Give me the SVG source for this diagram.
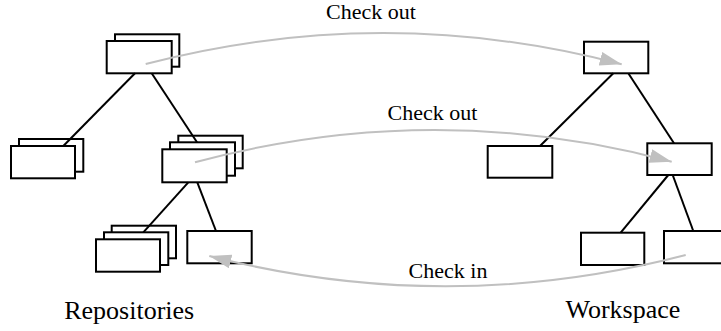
<svg xmlns="http://www.w3.org/2000/svg" width="721" height="331" viewBox="0 0 721 331">
<style>
.box{fill:#fff;stroke:#000;stroke-width:2}
.edge{stroke:#000;stroke-width:2;fill:none}
.flow{stroke:#c0c0c0;stroke-width:2;fill:none;marker-end:url(#ah)}
.lbl{font-family:"Liberation Serif","Times New Roman",serif;font-size:22px;fill:#000;text-anchor:middle}
.title{font-family:"Liberation Serif","Times New Roman",serif;font-size:26px;fill:#000;text-anchor:middle}
</style>
<defs>
<marker id="ah" markerUnits="userSpaceOnUse" markerWidth="22" markerHeight="14" refX="22" refY="7" orient="auto">
<path d="M0,0 L22,7 L0,14 Z" fill="#c0c0c0"/>
</marker>
</defs>
<rect width="721" height="331" fill="#fff"/>
<g id="repo-top">
<rect class="box" x="115" y="34.3" width="64.3" height="32.4"/>
<rect class="box" x="106.7" y="41" width="65" height="32.3"/>
</g>
<g id="repo-left">
<rect class="box" x="19" y="139" width="64.3" height="32.7"/>
<rect class="box" x="11" y="146" width="64" height="32.3"/>
</g>
<g id="repo-mid">
<rect class="box" x="178.3" y="135.7" width="64.4" height="32.6"/>
<rect class="box" x="170" y="142.3" width="65" height="33.4"/>
<rect class="box" x="162.3" y="149.3" width="64.4" height="33"/>
</g>
<g id="repo-bottom-left">
<rect class="box" x="111.7" y="225.7" width="64.3" height="32.6"/>
<rect class="box" x="104" y="232.3" width="64.3" height="32.7"/>
<rect class="box" x="96" y="239.3" width="64" height="32.4"/>
</g>
<g id="repo-bottom-right">
<rect class="box" x="187.3" y="231" width="64.4" height="32.3"/>
</g>
<g id="ws-top">
<rect class="box" x="584" y="41.7" width="64.3" height="31.6"/>
</g>
<g id="ws-left">
<rect class="box" x="487.7" y="146" width="64.6" height="31.7"/>
</g>
<g id="ws-right">
<rect class="box" x="647.3" y="143.3" width="64.4" height="31.7"/>
</g>
<g id="ws-bottom-left">
<rect class="box" x="581" y="232.7" width="63.3" height="32.3"/>
</g>
<g id="ws-bottom-right">
<rect class="box" x="664" y="231" width="64" height="32.3"/>
</g>
<g id="connectors">
<line class="edge" x1="135" y1="73.3" x2="63.3" y2="146"/>
<line class="edge" x1="151.7" y1="73.3" x2="197" y2="142.3"/>
<line class="edge" x1="188.3" y1="182.3" x2="143.3" y2="232.3"/>
<line class="edge" x1="197.3" y1="182.3" x2="216" y2="231"/>
<line class="edge" x1="613.3" y1="73.3" x2="540" y2="146"/>
<line class="edge" x1="628.3" y1="73.3" x2="674" y2="143.3"/>
<line class="edge" x1="668.3" y1="175" x2="620.7" y2="232.7"/>
<line class="edge" x1="672.7" y1="175" x2="693.3" y2="231"/>
<path class="flow" d="M145.7,64 Q384,2 621.7,64.3"/>
<path class="flow" d="M195,162.3 Q433.5,98 671.7,161.7"/>
<path class="flow" d="M685.7,255 Q447.5,317 209.3,256"/>
</g>
<g id="labels">
<text class="lbl" x="371" y="19.3">Check out</text>
<text class="lbl" x="432.5" y="120">Check out</text>
<text class="lbl" x="448" y="278.3">Check in</text>
<text class="title" x="129.2" y="319">Repositories</text>
<text class="title" x="622.9" y="318.3">Workspace</text>
</g>
</svg>
